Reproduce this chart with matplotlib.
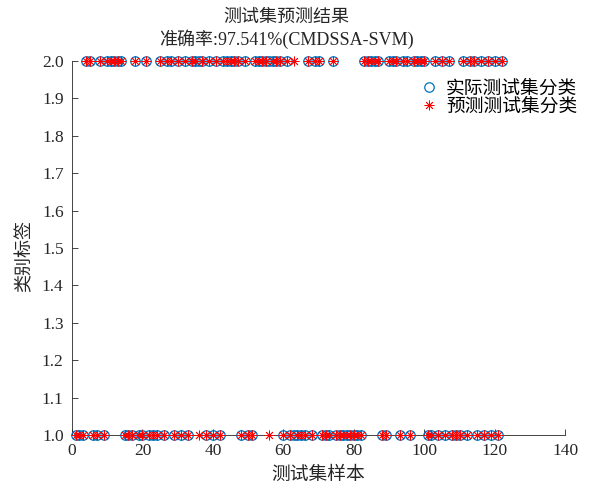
import numpy as np
import matplotlib
matplotlib.use("Agg")
import matplotlib.pyplot as plt

plt.rcParams['font.family'] = ['Liberation Serif', 'Noto Sans CJK SC']

# Actual class of each test sample (1..122)
actual = [1, 1, 1, 2, 2, 1, 1, 2, 1, 2,
          2, 2, 2, 2, 1, 1, 1, 2, 1, 1,
          2, 1, 1, 1, 2, 1, 2, 2, 1, 2,
          1, 2, 1, 2, 2, 2, 2, 1, 2, 1,
          2, 1, 2, 2, 2, 2, 2, 1, 2, 1,
          1, 2, 2, 2, 2, 2, 2, 2, 2, 1,
          2, 1, 1, 1, 1, 1, 2, 1, 2, 2,
          1, 1, 1, 2, 1, 1, 1, 1, 1, 1,
          1, 1, 2, 2, 2, 2, 2, 1, 1, 2,
          2, 2, 1, 2, 2, 1, 2, 2, 2, 2,
          1, 1, 2, 1, 2, 1, 2, 1, 1, 1,
          2, 1, 2, 2, 1, 2, 1, 2, 1, 2,
          1, 2]

# Predicted class: samples 36 and 56 predicted as 1, sample 63 predicted as 2
predicted = list(actual)
predicted[36 - 1] = 1
predicted[56 - 1] = 1
predicted[63 - 1] = 2

sample_idx = np.arange(1, len(actual) + 1)
accuracy = np.mean(np.array(actual) == np.array(predicted)) * 100

x_ticks = [0, 20, 40, 60, 80, 100, 120, 140]
y_ticks = [1.0, 1.1, 1.2, 1.3, 1.4, 1.5, 1.6, 1.7, 1.8, 1.9, 2.0]

ink = '#262626'

fig = plt.figure(figsize=(5.9, 4.9), dpi=100)
ax = fig.add_axes([0.122, 0.112, 0.836, 0.7635])

ax.plot(sample_idx, actual, marker='o', linestyle='none', markersize=6.8,
        markerfacecolor='none', markeredgecolor='#0072BD', markeredgewidth=0.9,
        clip_on=False, label='实际测试集分类', zorder=3)
# eight-armed asterisk, like MATLAB's '*'
ax.plot(sample_idx, predicted, marker=(8, 2, 0), linestyle='none',
        markersize=7, color='#FF0000', markeredgewidth=0.6, clip_on=False,
        label='预测测试集分类', zorder=4)

ax.set_xlim(0, 140)
ax.set_ylim(1.0, 2.0)
ax.set_xticks(x_ticks)
ax.set_yticks(y_ticks)
ax.set_yticklabels([f'{v:.1f}' for v in y_ticks])

for side in ['top', 'right']:
    ax.spines[side].set_visible(False)
for side in ['left', 'bottom']:
    ax.spines[side].set_color(ink)
    ax.spines[side].set_linewidth(0.6)
ax.tick_params(direction='in', length=4, width=0.6, colors=ink,
               labelsize=12.5, labelcolor=ink, pad=6)

ax.set_xlabel('测试集样本', fontsize=13.5, color=ink, labelpad=5)
ax.set_ylabel('类别标签', fontsize=13, color=ink)
ax.yaxis.set_label_coords(-0.078, 0.48)

ax.text(0.434, 1.086, '测试集预测结果\n准确率:' + f'{accuracy:.3f}' + '%(CMDSSA-SVM)',
        transform=ax.transAxes, ha='center', va='center', fontsize=13,
        color=ink, linespacing=1.2)

ax.legend(loc='upper right', bbox_to_anchor=(1.04, 0.968), frameon=False,
          fontsize=13.5, handletextpad=0.3, borderaxespad=0, labelspacing=0.05,
          handlelength=1.2)

fig.savefig('out.png', dpi=100, facecolor='white')
